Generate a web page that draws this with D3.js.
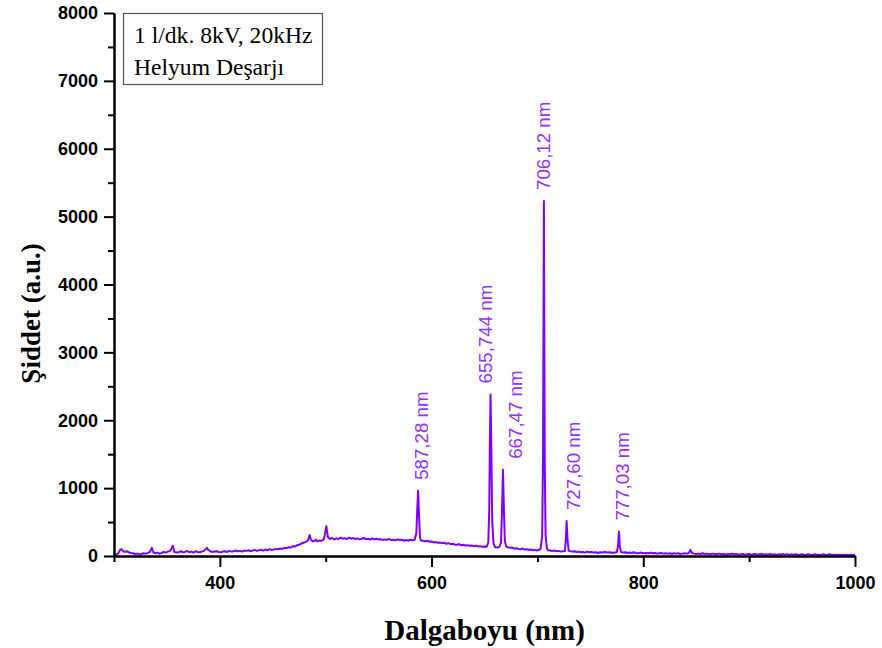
<!DOCTYPE html>
<html>
<head>
<meta charset="utf-8">
<script src="https://cdn.jsdelivr.net/npm/d3@7"></script>
<style>
  html, body { margin: 0; padding: 0; background: #fff; }
  svg { display: block; }
</style>
</head>
<body>
<svg id="chart" width="882" height="648"></svg>
<script>
// Helium discharge emission spectrum: [wavelength (nm), intensity (a.u.)]
const spectrum = [
  [300,5],[302,20],[304,40],[306,95],[307,100],[308,80],[310,60],[312,70],[314,55],[316,45],[318,40],
  [320,30],[322,35],[324,25],[326,30],[328,40],[330,35],[332,45],[334,60],[335.7,120],[337,55],[339,40],
  [341,50],[343,35],[345,45],[347,60],[349,50],[351,65],[353,75],[355.6,150],[357,60],[359,50],[361,55],
  [363,70],[365,55],[367,60],[369,75],[371,55],[373,65],[375,50],[377,70],[379,60],[381,55],[383,65],
  [385,75],[387.8,120],[389,90],[391,70],[393,60],[395,65],[397,70],[399,60],[401,55],[403,65],[405,70],
  [407,60],[409,75],[411,65],[413,70],[415,80],[417,70],[419,75],[421,65],[423,80],[425,75],[427,85],
  [429,70],[431,80],[433,90],[435,75],[437,85],[439,90],[441,80],[443,95],[445,85],[447,100],[449,90],
  [451,95],[453,105],[455,100],[457,110],[459,105],[461,120],[463,115],[465,130],[467,125],[469,145],
  [471,140],[473,160],[475,165],[477,185],[479,195],[481,205],[483,225],[484.8,310],[486,240],[488,215],
  [489.5,225],[490.8,240],[492,215],[494,230],[496,225],[498,240],[499,300],[500.6,440],[502,280],[504,250],
  [506,265],[508,245],[510,260],[512,250],[514,270],[516,255],[518,260],[520,250],[522,270],[524,255],
  [526,265],[528,250],[530,260],[532,245],[534,255],[536,265],[538,250],[540,255],[542,240],[544,260],
  [546,245],[548,255],[550,240],[552,250],[554,235],[556,245],[558,240],[560,250],[562,235],[564,240],
  [566,230],[568,245],[570,235],[572,240],[574,225],[576,235],[578,225],[580,240],[582,230],[584,240],
  [585.6,330],[586.5,700],[587.28,960],[588.1,620],[589,280],[590,230],[592,225],[594,215],[596,225],
  [598,210],[600,215],[602,200],[604,205],[606,195],[608,200],[610,190],[612,195],[614,180],[616,190],
  [618,175],[620,180],[622,170],[624,165],[626,175],[628,160],[630,165],[632,155],[634,160],[636,150],
  [638,155],[640,145],[642,150],[644,140],[646,145],[648,135],[650,140],[652,135],[653.6,200],[654.5,700],
  [655.0,1600],[655.744,2380],[656.5,1500],[657.3,500],[658.5,190],[660,130],[662,125],[664,135],
  [665.6,200],[666.6,700],[667.47,1270],[668.3,700],[669.2,220],[670.5,140],[672,130],[674,120],[676,125],
  [678,110],[680,115],[682,105],[684,100],[686,110],[688,95],[690,100],[692,90],[694,95],[696,85],[698,90],
  [700,80],[701,95],[702,90],[703,110],[704.5,300],[705.3,1500],[706.12,5230],[706.9,1400],[707.7,300],
  [709,110],[710,85],[712,80],[714,75],[716,80],[718,70],[720,75],[722,65],[724,70],[726,75],[726.8,250],
  [727.6,515],[728.4,240],[729.5,80],[731,70],[733,65],[735,70],[737,60],[739,65],[741,55],[743,60],
  [745,50],[747,65],[749,55],[751,60],[753,50],[755,55],[757,45],[759,55],[761,50],[763,60],[765,55],
  [767,50],[769,55],[771,45],[773,50],[775,60],[776.2,150],[777.03,360],[777.8,140],[779,60],[781,50],
  [783,55],[785,45],[787,50],[789,45],[791,55],[793,45],[795,40],[797,50],[799,45],[801,40],[803,45],
  [805,40],[807,50],[809,40],[811,45],[813,35],[815,40],[817,45],[819,35],[821,40],[823,35],[825,40],
  [827,30],[829,40],[831,35],[833,40],[835,30],[837,35],[839,40],[841,35],[843,45],[844.5,90],[846,45],
  [848,35],[850,30],[852,35],[854,30],[856,40],[858,30],[860,35],[862,25],[864,30],[866,35],[868,25],
  [870,30],[872,35],[874,25],[876,30],[878,20],[880,30],[882,25],[884,35],[886,25],[888,30],[890,20],
  [892,25],[894,30],[896,20],[898,25],[900,30],[902,20],[904,25],[906,30],[908,20],[910,25],[912,30],
  [914,20],[916,25],[918,20],[920,30],[922,20],[924,25],[926,15],[928,25],[930,20],[932,30],[934,20],
  [936,25],[938,15],[940,25],[942,20],[944,25],[946,15],[948,20],[950,25],[952,15],[954,20],[956,25],
  [958,15],[960,20],[962,25],[964,15],[966,20],[968,15],[970,25],[972,15],[974,20],[976,25],[978,15],
  [980,20],[982,15],[984,20],[986,15],[988,20],[990,15],[992,20],[994,15],[996,20],[998,15],[1000,20]
];

// Annotated helium lines
const peakWavelengths = [587.28, 655.744, 667.47, 706.12, 727.60, 777.03];
const peakIntensities = [960, 2380, 1270, 5230, 515, 360];
const peakLabels = ["587,28 nm", "655,744 nm", "667,47 nm", "706,12 nm", "727,60 nm", "777,03 nm"];

// Axis ticks
const xMajorTicks = [400, 600, 800, 1000];
const xMinorTicks = [300, 500, 700, 900];
const yMajorTicks = [0, 1000, 2000, 3000, 4000, 5000, 6000, 7000, 8000];
const yMinorTicks = [500, 1500, 2500, 3500, 4500, 5500, 6500, 7500];

const legendLines = ["1 l/dk. 8kV, 20kHz", "Helyum Deşarjı"];
const xTitle = "Dalgaboyu (nm)";
const yTitle = "Şiddet (a.u.)";

const svg = d3.select("#chart");
const plot = { left: 114, right: 855, top: 13, bottom: 556 };
const sans = "'Liberation Sans', Arial, sans-serif";
const serif = "'Liberation Serif', 'Times New Roman', serif";
const lineColor = "#7f00ff";
const labelColor = "#9331ff";

const x = d3.scaleLinear().domain([300, 1000]).range([plot.left, plot.right]);
const y = d3.scaleLinear().domain([0, 8000]).range([plot.bottom, plot.top]);

// Spectrum trace
const line = d3.line().x(d => x(d[0])).y(d => y(d[1]));
svg.append("path")
  .datum(spectrum)
  .attr("fill", "none")
  .attr("stroke", lineColor)
  .attr("stroke-width", 2)
  .attr("stroke-linejoin", "round")
  .attr("d", line);

// Axes
function styleAxis(g) {
  g.selectAll("path.domain").attr("stroke", "#000").attr("stroke-width", 2);
  g.selectAll(".tick line").attr("stroke", "#000").attr("stroke-width", 2);
  g.selectAll(".tick text")
    .attr("fill", "#000")
    .style("font-family", sans)
    .style("font-weight", "bold")
    .style("font-size", "18px");
}

const xAxisMajor = d3.axisBottom(x).tickValues(xMajorTicks).tickSize(11).tickPadding(9)
  .tickSizeOuter(0).tickFormat(d3.format("d"));
const xAxisMinor = d3.axisBottom(x).tickValues(xMinorTicks).tickSize(6).tickFormat("").tickSizeOuter(0);
const yAxisMajor = d3.axisLeft(y).tickValues(yMajorTicks).tickSize(10).tickPadding(6)
  .tickSizeOuter(0).tickFormat(d3.format("d"));
const yAxisMinor = d3.axisLeft(y).tickValues(yMinorTicks).tickSize(6).tickFormat("").tickSizeOuter(0);

svg.append("g").attr("transform", `translate(0,${plot.bottom})`).call(xAxisMinor).call(styleAxis);
svg.append("g").attr("transform", `translate(0,${plot.bottom})`).call(xAxisMajor).call(styleAxis);
svg.append("g").attr("transform", `translate(${plot.left},0)`).call(yAxisMinor).call(styleAxis);
svg.append("g").attr("transform", `translate(${plot.left},0)`).call(yAxisMajor).call(styleAxis);

// Axis titles
svg.append("text")
  .attr("x", (plot.left + plot.right) / 2)
  .attr("y", 640)
  .attr("text-anchor", "middle")
  .style("font-family", serif)
  .style("font-weight", "bold")
  .style("font-size", "29px")
  .text(xTitle);

svg.append("text")
  .attr("transform", `translate(40,${(plot.top + plot.bottom) / 2 + 29}) rotate(-90)`)
  .attr("text-anchor", "middle")
  .style("font-family", serif)
  .style("font-weight", "bold")
  .style("font-size", "27px")
  .text(yTitle);

// Peak annotations, spread apart where neighbours would overlap
const labelPos = peakWavelengths.map(w => x(w) + 3);
const minSep = 30;
for (let i = 1; i < labelPos.length; i++) {
  const gap = labelPos[i] - labelPos[i - 1];
  if (gap < minSep) {
    const push = (minSep - gap) / 2;
    labelPos[i - 1] -= push;
    labelPos[i] += push;
  }
}
svg.append("g").selectAll("text")
  .data(peakLabels)
  .join("text")
  .attr("transform", (d, i) => `translate(${labelPos[i]},${y(peakIntensities[i]) - 11}) rotate(-90)`)
  .attr("dy", "0.36em")
  .attr("text-anchor", "start")
  .attr("fill", labelColor)
  .style("font-family", sans)
  .style("font-size", "18.7px")
  .text(d => d);

// Legend box
const legend = svg.append("g");
legend.append("rect")
  .attr("x", 123.5).attr("y", 13.5)
  .attr("width", 199).attr("height", 71)
  .attr("fill", "#fff")
  .attr("stroke", "#555")
  .attr("stroke-width", 1.2);
legend.selectAll("text")
  .data(legendLines)
  .join("text")
  .attr("x", 134)
  .attr("y", (d, i) => 43 + i * 32)
  .style("font-family", serif)
  .style("font-size", "23.6px")
  .attr("fill", "#000")
  .text(d => d);
</script>
</body>
</html>
